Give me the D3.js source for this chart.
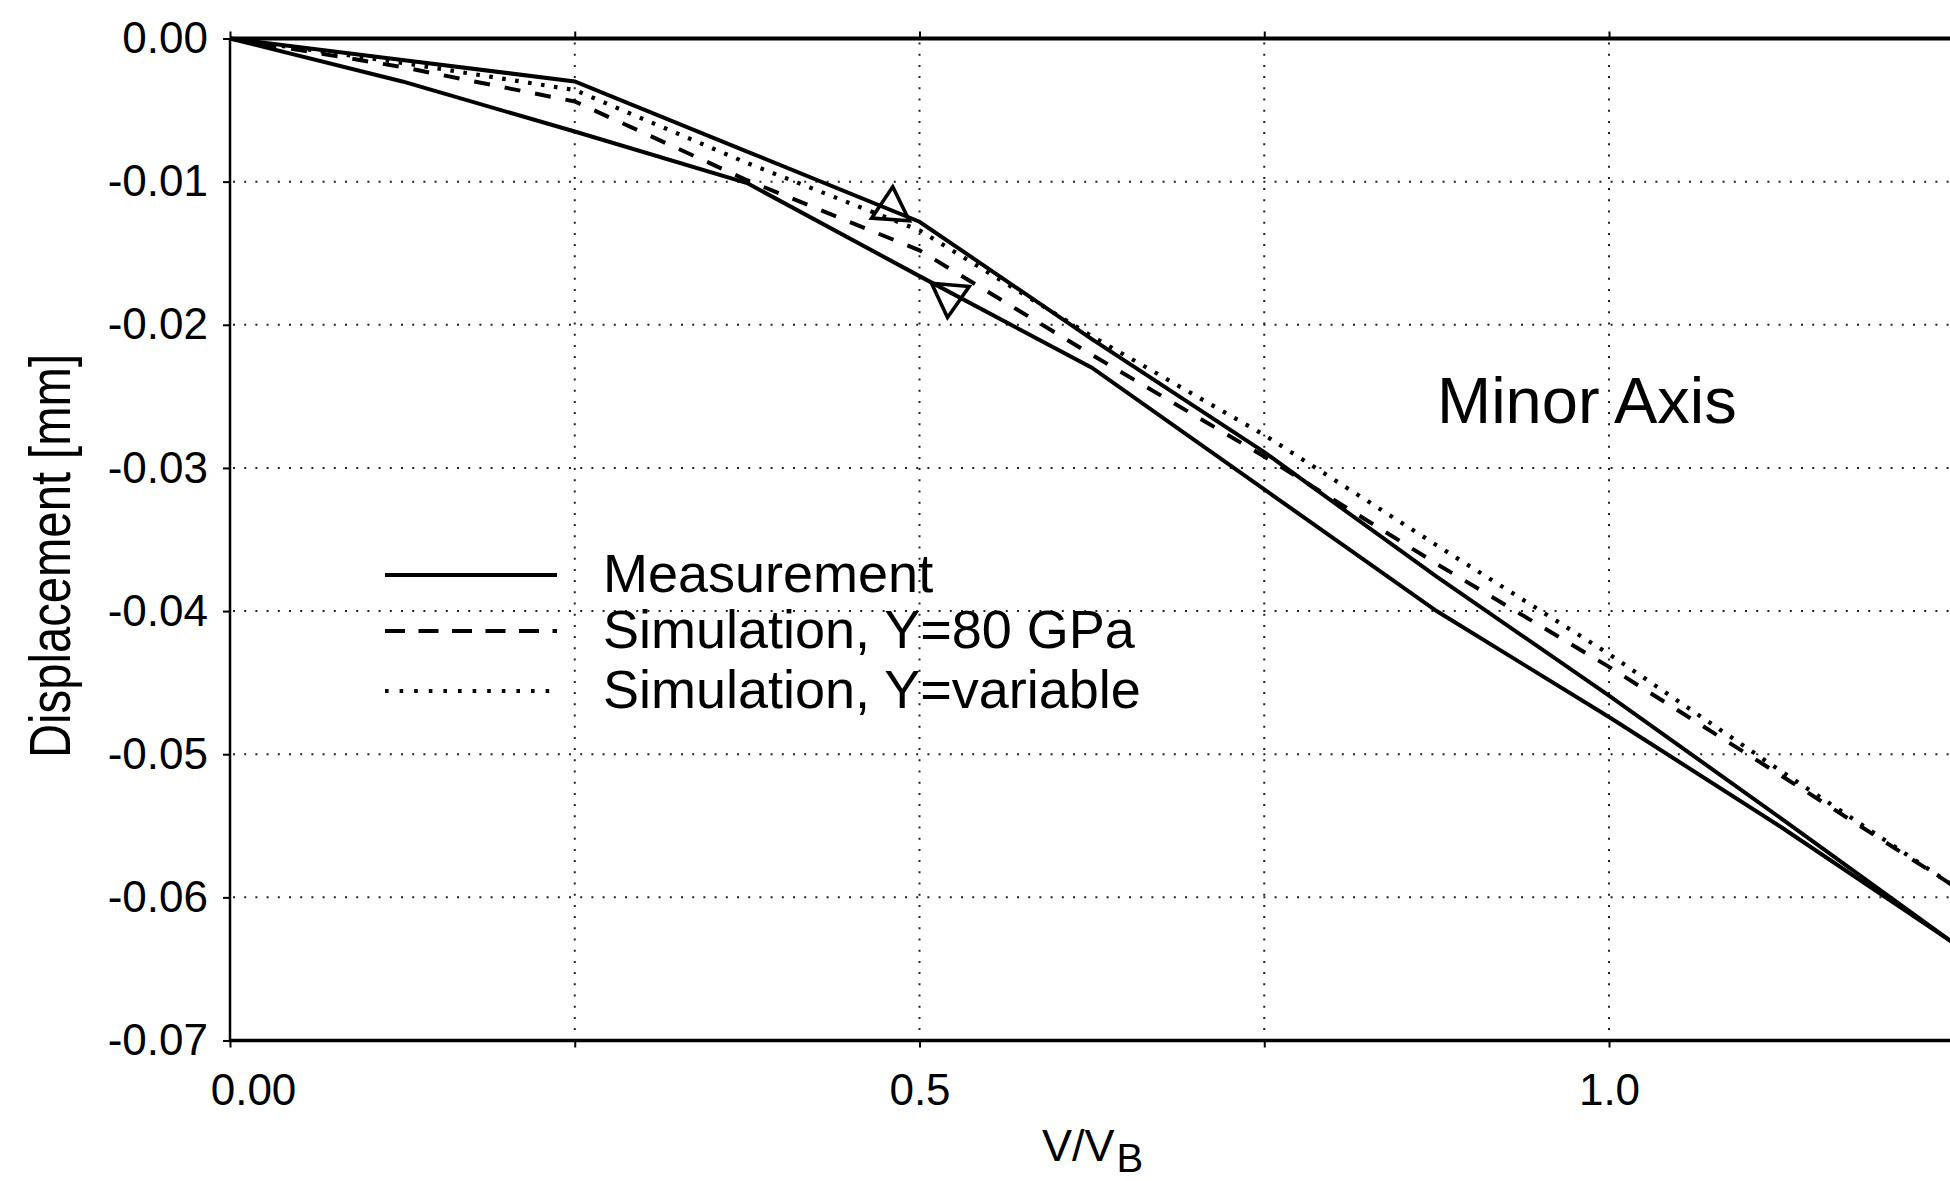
<!DOCTYPE html>
<html>
<head>
<meta charset="utf-8">
<script src="https://cdn.jsdelivr.net/npm/d3@7"></script>
<style>
  html, body { margin: 0; padding: 0; background: #fff; overflow: hidden; }
  svg { display: block; font-family: "Liberation Sans", Arial, Helvetica, sans-serif; }
</style>
</head>
<body>
<svg id="chart" width="1950" height="1181"></svg>
<script>
// ---- data ----
const xValues = [0, 0.125, 0.25, 0.375, 0.5, 0.625, 0.75, 0.875, 1.0, 1.125, 1.25];
// Measurement, lower branch
const measurementLower = [0, -0.0030, -0.0065, -0.0101, -0.0166, -0.0230, -0.0315, -0.0400, -0.0474, -0.0551, -0.0632];
// Measurement, upper branch
const measurementUpper = [0, -0.0015, -0.0030, -0.0079, -0.0128, -0.0210, -0.0289, -0.0376, -0.0459, -0.0545, -0.0632];
// Simulation, Y=80 GPa
const simulation80 = [0, -0.0020, -0.0044, -0.0099, -0.0148, -0.0221, -0.0292, -0.0367, -0.0439, -0.0515, -0.0592];
// Simulation, Y=variable
const simulationVar = [0, -0.0017, -0.0036, -0.0087, -0.0134, -0.0208, -0.0277, -0.0354, -0.0430, -0.0512, -0.0592];

// direction markers on the measurement loop
const markerX = [0.4795, 0.5217];
const markerY = [-0.01188, -0.01797];
const markerDir = ["up", "down"];

const xTickValues = [0, 0.25, 0.5, 0.75, 1.0, 1.25];
const xTickLabels = ["0.00", "", "0.5", "", "1.0", ""];
const yTickValues = [0, -0.01, -0.02, -0.03, -0.04, -0.05, -0.06, -0.07];
const yTickLabels = ["0.00", "-0.01", "-0.02", "-0.03", "-0.04", "-0.05", "-0.06", "-0.07"];
const xGridValues = [0.25, 0.5, 0.75, 1.0, 1.25];
const yGridValues = [-0.01, -0.02, -0.03, -0.04, -0.05, -0.06];

const legendLabels = ["Measurement", "Simulation, Y=80 GPa", "Simulation, Y=variable"];
const annotation = "Minor Axis";
const yTitle = "Displacement [mm]";

// ---- layout ----
const svg = d3.select("#chart");
const plotLeft = 230, plotTop = 38.5, plotBottom = 1040.5;
const x = d3.scaleLinear().domain([0, 1.25]).range([plotLeft, plotLeft + 1.25 * 1379]);
const y = d3.scaleLinear().domain([-0.07, 0]).range([plotBottom, plotTop]);
const plotRight = x(1.25);

// grid
const grid = svg.append("g").attr("stroke", "#222").attr("stroke-width", 2)
  .attr("stroke-dasharray", "2,9.2");
grid.selectAll("line.gx").data(xGridValues).join("line").attr("class", "gx")
  .attr("x1", d => x(d)).attr("x2", d => x(d))
  .attr("y1", plotTop + 4).attr("y2", plotBottom - 2);
grid.selectAll("line.gy").data(yGridValues).join("line").attr("class", "gy")
  .attr("y1", d => y(d)).attr("y2", d => y(d))
  .attr("x1", plotLeft + 3).attr("x2", plotRight);

// axes
const fmtX = d => xTickLabels[xTickValues.indexOf(d)];
const fmtY = d => yTickLabels[yTickValues.indexOf(d)];

const gLeft = svg.append("g").attr("transform", `translate(${plotLeft},0)`)
  .call(d3.axisLeft(y).tickValues(yTickValues).tickFormat(fmtY).tickSize(7).tickSizeOuter(0).tickPadding(15));
const gBottom = svg.append("g").attr("transform", `translate(0,${plotBottom})`)
  .call(d3.axisBottom(x).tickValues(xTickValues).tickFormat(fmtX).tickSize(7).tickSizeOuter(0).tickPadding(26));
const gTop = svg.append("g").attr("transform", `translate(0,${plotTop})`)
  .call(d3.axisTop(x).tickValues(xTickValues).tickFormat("").tickSize(7).tickSizeOuter(0));

[gLeft, gBottom, gTop].forEach(g => {
  g.select(".domain").remove();
  g.selectAll(".tick line").attr("stroke", "#000").attr("stroke-width", 2);
  g.selectAll(".tick text").attr("fill", "#000").attr("font-size", 44)
    .attr("font-family", '"Liberation Sans", Arial, sans-serif');
});
// first x label sits right of its tick in the reference
gBottom.selectAll(".tick text").filter(d => d === 0).attr("x", 23);

// axis lines
svg.append("line").attr("x1", plotLeft).attr("x2", plotLeft).attr("y1", plotTop).attr("y2", plotBottom)
  .attr("stroke", "#000").attr("stroke-width", 2.5);
svg.append("line").attr("x1", plotLeft).attr("x2", plotRight).attr("y1", plotTop).attr("y2", plotTop)
  .attr("stroke", "#000").attr("stroke-width", 4);
svg.append("line").attr("x1", plotLeft - 1).attr("x2", plotRight).attr("y1", plotBottom).attr("y2", plotBottom)
  .attr("stroke", "#000").attr("stroke-width", 3.4);

// series
const line = d3.line().x((d, i) => x(xValues[i])).y(d => y(d));
const series = [
  { values: measurementLower, dash: null, width: 4 },
  { values: measurementUpper, dash: null, width: 4 },
  { values: simulation80, dash: "16,15", width: 4 },
  { values: simulationVar, dash: "3.6,9.5", width: 4.2 }
];
svg.append("g").selectAll("path").data(series).join("path")
  .attr("d", d => line(d.values))
  .attr("fill", "none").attr("stroke", "#000")
  .attr("stroke-width", d => d.width)
  .attr("stroke-linejoin", "miter")
  .attr("stroke-dasharray", d => d.dash);

// triangle markers
const tri = d3.symbol().type(d3.symbolTriangle).size(620);
svg.append("g").selectAll("path").data(markerX).join("path")
  .attr("d", tri())
  .attr("transform", (d, i) => `translate(${x(d)},${y(markerY[i])}) rotate(${markerDir[i] === "up" ? 4 : 185})`)
  .attr("fill", "none").attr("stroke", "#000").attr("stroke-width", 3.6);

// legend
const legendY = [575, 631, 691];
const legendDash = [null, "20,13.5", "3.6,11"];
const legendW = [4, 4, 4.2];
const lg = svg.append("g");
lg.selectAll("line").data(legendLabels).join("line")
  .attr("x1", 385).attr("x2", 557)
  .attr("y1", (d, i) => legendY[i]).attr("y2", (d, i) => legendY[i])
  .attr("stroke", "#000").attr("stroke-width", (d, i) => legendW[i])
  .attr("stroke-dasharray", (d, i) => legendDash[i]);
lg.selectAll("text").data(legendLabels).join("text")
  .attr("x", 603).attr("y", (d, i) => legendY[i] + 17)
  .attr("font-size", 54).attr("fill", "#000").text(d => d);

// annotation
svg.append("text").attr("x", 1437).attr("y", 423).attr("font-size", 65)
  .attr("fill", "#000").text(annotation);

// axis titles
svg.append("text")
  .attr("transform", "translate(70,556) rotate(-90)")
  .attr("text-anchor", "middle").attr("font-size", 58)
  .attr("textLength", 404).attr("lengthAdjust", "spacingAndGlyphs")
  .attr("fill", "#000").text(yTitle);

const xt = svg.append("text").attr("x", 1042).attr("y", 1161).attr("font-size", 45).attr("fill", "#000");
xt.append("tspan").text("V/V");
xt.append("tspan").attr("font-size", 40).attr("dy", 11).attr("dx", 2).text("B");
</script>
</body>
</html>
